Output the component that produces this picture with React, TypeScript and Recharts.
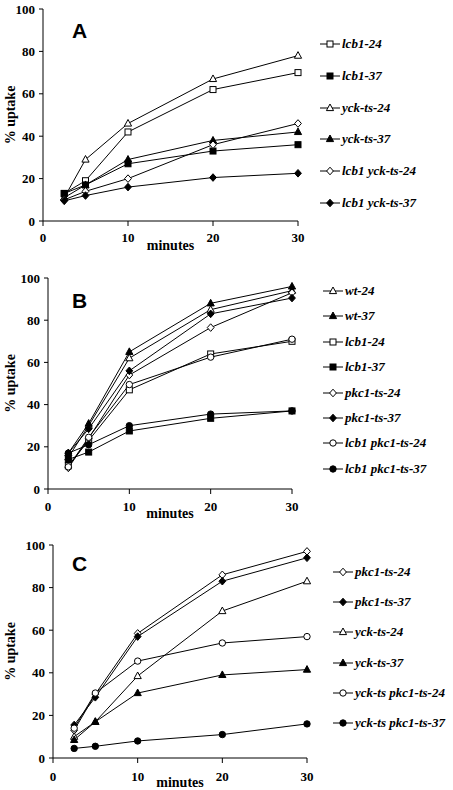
import React from "react";
import { Legend, Line, LineChart, XAxis, YAxis } from "recharts";

const minutes = [2.5, 5, 10, 20, 30];
const xTicks = [0, 10, 20, 30];
const yTicks = [0, 20, 40, 60, 80, 100];

// panel A
const aLcb1_24 = [13, 19, 42, 62, 70];
const aLcb1_37 = [13, 17, 27, 33, 36];
const aYck24 = [11, 29, 46, 67, 78];
const aYck37 = [11, 17, 29, 38, 42];
const aLcb1Yck24 = [10, 14, 20, 36, 46];
const aLcb1Yck37 = [9.5, 12, 16, 20.5, 22.5];

// panel B
const bWt24 = [15, 30, 62, 85, 94];
const bWt37 = [17, 31, 65, 88, 96];
const bLcb1_24 = [11, 23, 47, 64, 70];
const bLcb1_37 = [14, 17.5, 27.5, 33.5, 37];
const bPkc24 = [10, 24, 54, 76.5, 93];
const bPkc37 = [17, 28.5, 56, 83, 90.5];
const bLcb1Pkc24 = [10.5, 24.5, 49.5, 62.5, 71];
const bLcb1Pkc37 = [17, 21, 30, 35.5, 37];

// panel C
const cPkc24 = [13, 30, 58.5, 86, 97];
const cPkc37 = [15.5, 28.5, 57, 83, 94];
const cYck24 = [10, 17, 38.5, 69, 83];
const cYck37 = [8.5, 17, 30.5, 39, 41.5];
const cYckPkc24 = [14, 30.5, 45.5, 54, 57];
const cYckPkc37 = [4.5, 5.5, 8, 11, 16];

type Shape = "square" | "triangle" | "diamond" | "circle";
type Series = { name: string; values: number[]; shape: Shape; filled: boolean };

const seriesA: Series[] = [
  { name: "lcb1-24", values: aLcb1_24, shape: "square", filled: false },
  { name: "lcb1-37", values: aLcb1_37, shape: "square", filled: true },
  { name: "yck-ts-24", values: aYck24, shape: "triangle", filled: false },
  { name: "yck-ts-37", values: aYck37, shape: "triangle", filled: true },
  { name: "lcb1 yck-ts-24", values: aLcb1Yck24, shape: "diamond", filled: false },
  { name: "lcb1 yck-ts-37", values: aLcb1Yck37, shape: "diamond", filled: true },
];

const seriesB: Series[] = [
  { name: "wt-24", values: bWt24, shape: "triangle", filled: false },
  { name: "wt-37", values: bWt37, shape: "triangle", filled: true },
  { name: "lcb1-24", values: bLcb1_24, shape: "square", filled: false },
  { name: "lcb1-37", values: bLcb1_37, shape: "square", filled: true },
  { name: "pkc1-ts-24", values: bPkc24, shape: "diamond", filled: false },
  { name: "pkc1-ts-37", values: bPkc37, shape: "diamond", filled: true },
  { name: "lcb1 pkc1-ts-24", values: bLcb1Pkc24, shape: "circle", filled: false },
  { name: "lcb1 pkc1-ts-37", values: bLcb1Pkc37, shape: "circle", filled: true },
];

const seriesC: Series[] = [
  { name: "pkc1-ts-24", values: cPkc24, shape: "diamond", filled: false },
  { name: "pkc1-ts-37", values: cPkc37, shape: "diamond", filled: true },
  { name: "yck-ts-24", values: cYck24, shape: "triangle", filled: false },
  { name: "yck-ts-37", values: cYck37, shape: "triangle", filled: true },
  { name: "yck-ts pkc1-ts-24", values: cYckPkc24, shape: "circle", filled: false },
  { name: "yck-ts pkc1-ts-37", values: cYckPkc37, shape: "circle", filled: true },
];

const serif = '"Liberation Serif", "Times New Roman", serif';

function Mark({ cx, cy, shape, filled }: { cx: number; cy: number; shape: Shape; filled: boolean }) {
  const fill = filled ? "#000" : "#fff";
  const common = { fill, stroke: "#000", strokeWidth: 1 };
  if (shape === "square") return <rect x={cx - 3} y={cy - 3} width={6} height={6} {...common} />;
  if (shape === "triangle")
    return <polygon points={`${cx},${cy - 4} ${cx + 3.6},${cy + 2.6} ${cx - 3.6},${cy + 2.6}`} {...common} />;
  if (shape === "diamond")
    return <polygon points={`${cx},${cy - 3.8} ${cx + 3.4},${cy} ${cx},${cy + 3.8} ${cx - 3.4},${cy}`} {...common} />;
  return <circle cx={cx} cy={cy} r={3.2} {...common} />;
}

type PanelProps = {
  letter: string;
  letterY: number;
  series: Series[];
  top: number;
  height: number;
  plot: { left: number; right: number; top: number; bottom: number };
  tickMargin: number;
  legend: { left: number; first: number; gap: number };
};

function Panel({ letter, letterY, series, top, height, plot, tickMargin, legend }: PanelProps) {
  const rows = minutes.map((m, i) => {
    const row: Record<string, number> = { m };
    series.forEach((s, j) => (row[`s${j}`] = s.values[i]));
    return row;
  });
  const tickStyle = { fill: "#000", fontSize: 13, fontWeight: "bold", fontFamily: serif };
  return (
    <div style={{ position: "absolute", left: 0, top }}>
      <LineChart
        width={453}
        height={height}
        data={rows}
        margin={{ top: plot.top, right: 453 - plot.right, bottom: height - plot.bottom - 30, left: 0 }}
      >
        <XAxis
          dataKey="m"
          type="number"
          domain={[0, 30]}
          ticks={xTicks}
          interval={0}
          height={30}
          tickSize={5}
          tickMargin={tickMargin}
          stroke="#000"
          tick={tickStyle}
          label={{
            value: "minutes",
            position: "insideBottom",
            offset: 1,
            style: { fill: "#000", fontSize: 14, fontWeight: "bold", fontFamily: serif },
          }}
        />
        <YAxis
          type="number"
          domain={[0, 100]}
          ticks={yTicks}
          interval={0}
          width={plot.left}
          tickSize={4}
          tickMargin={4}
          stroke="#000"
          tick={tickStyle}
          label={{
            value: "% uptake",
            angle: -90,
            position: "insideLeft",
            offset: 10,
            style: { fill: "#000", fontSize: 14, fontWeight: "bold", fontFamily: serif, textAnchor: "middle" },
          }}
        />
        <Legend
          layout="horizontal"
          verticalAlign="middle"
          align="center"
          wrapperStyle={{ left: legend.left, top: legend.first - legend.gap / 2, width: 453 - legend.left }}
          content={() => (
            <div>
              {series.map((s) => (
                <div key={s.name} style={{ height: legend.gap, display: "flex", alignItems: "center" }}>
                  <svg width={20} height={10} style={{ marginRight: 2 }}>
                    <line x1={0} x2={20} y1={5} y2={5} stroke="#000" strokeWidth={1} />
                    <Mark cx={10} cy={5} shape={s.shape} filled={s.filled} />
                  </svg>
                  <span
                    style={{
                      fontFamily: serif,
                      fontStyle: "italic",
                      fontWeight: "bold",
                      fontSize: 13,
                      color: "#000",
                      whiteSpace: "nowrap",
                    }}
                  >
                    {s.name}
                  </span>
                </div>
              ))}
            </div>
          )}
        />
        {series.map((s, j) => (
          <Line
            key={s.name}
            dataKey={`s${j}`}
            name={s.name}
            stroke="#000"
            strokeWidth={1}
            activeDot={false}
            isAnimationActive={false}
            dot={(p: any) => (
              <Mark key={`d${j}-${p.index}`} cx={p.cx} cy={p.cy} shape={s.shape} filled={s.filled} />
            )}
          />
        ))}
        <text x={72} y={letterY} fontFamily='"Liberation Sans", Arial, sans-serif' fontWeight="bold" fontSize={21}>
          {letter}
        </text>
      </LineChart>
    </div>
  );
}

export default function App() {
  return (
    <div style={{ position: "absolute", left: 0, top: 0, width: 453, height: 790, background: "#fff" }}>
      <Panel
        letter="A"
        letterY={38}
        series={seriesA}
        top={0}
        height={260}
        plot={{ left: 43, right: 298, top: 9, bottom: 221 }}
        tickMargin={7}
        legend={{ left: 320, first: 44, gap: 31.8 }}
      />
      <Panel
        letter="B"
        letterY={46}
        series={seriesB}
        top={262}
        height={262}
        plot={{ left: 48, right: 292, top: 16, bottom: 227 }}
        tickMargin={8}
        legend={{ left: 323, first: 29, gap: 25.4 }}
      />
      <Panel
        letter="C"
        letterY={46}
        series={seriesC}
        top={525}
        height={265}
        plot={{ left: 53, right: 307, top: 20, bottom: 233 }}
        tickMargin={9}
        legend={{ left: 333, first: 47, gap: 30.2 }}
      />
    </div>
  );
}
